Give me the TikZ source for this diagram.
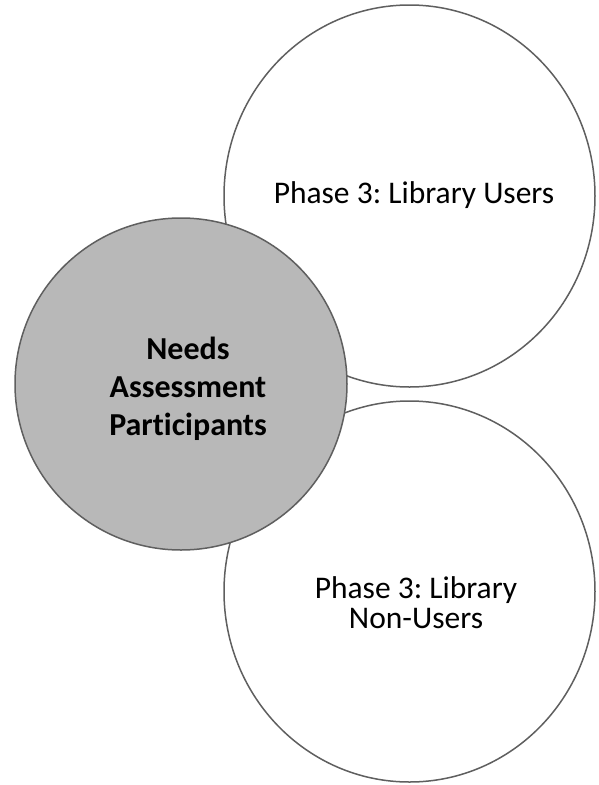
\documentclass[tikz,border=0pt]{standalone}
\usepackage{fontspec}
\setmainfont{Carlito}[Ligatures=NoCommon]
\usetikzlibrary{shapes.geometric}
\definecolor{edge}{HTML}{5F5F5F}
\definecolor{hub}{HTML}{B8B8B8}
\tikzset{
  ring/.style={draw=edge, line width=1.5pt, ellipse, inner sep=0pt, fill=white},
  lbl/.style={font=\frenchspacing\fontsize{31.5}{30}\selectfont, align=center, inner sep=0pt},
  hublbl/.style={font=\frenchspacing\fontsize{32}{38}\selectfont\bfseries, align=center, inner sep=0pt}
}
\begin{document}
\begin{tikzpicture}[x=1pt,y=-1pt]
\useasboundingbox (0,0) rectangle (598,785);
\node[ring, minimum width=371pt, minimum height=382pt] (users) at (409.5,196) {};
\node[ring, minimum width=371pt, minimum height=381pt] (nonusers) at (409.5,591.5) {};
\node[ring, fill=hub, circle, minimum size=332pt] (hub) at (181,384) {};
\node[lbl, anchor=base] (t1) at (414,203) {Phase 3: Library Users};
\node[lbl] (t2) at (416,603) {Phase 3: Library\\Non-Users};
\node[hublbl] (t3) at (188,389) {Needs\\Assessment\\Participants};
\end{tikzpicture}
\end{document}
